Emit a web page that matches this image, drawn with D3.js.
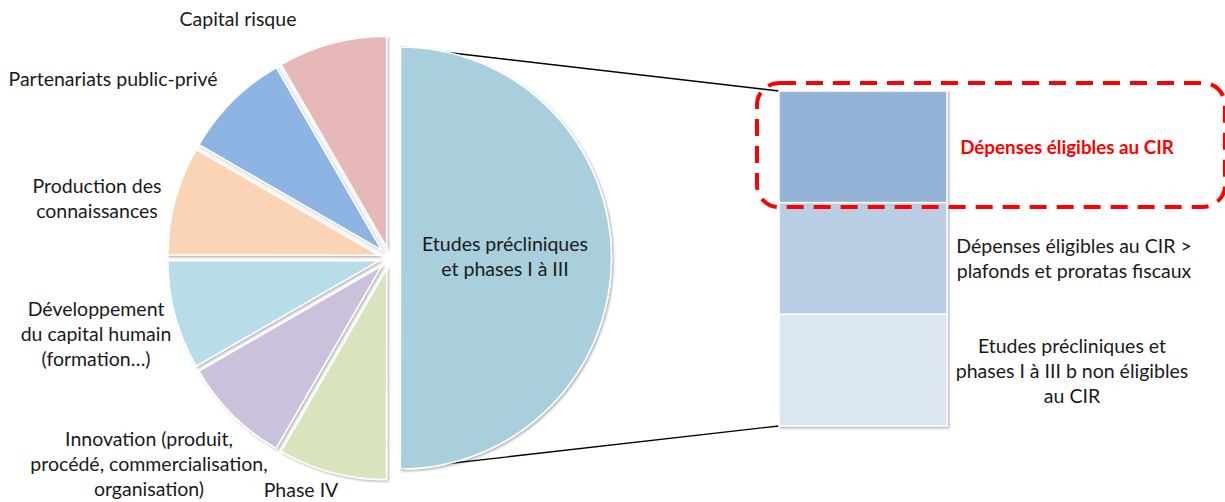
<!DOCTYPE html>
<html><head><meta charset="utf-8">
<script src="https://cdn.jsdelivr.net/npm/d3@7"></script>
<style>
html,body{margin:0;padding:0;background:#fff;}
svg text{font-family:Lato,"Open Sans",sans-serif;fill:#1a1a1a;}
</style></head>
<body><svg id="chart" width="1225" height="502"></svg>
<script>
// ---- data ----
const pieCategories = ["Etudes précliniques et phases I à III", "Phase IV",
  "Innovation (produit, procédé, commercialisation, organisation)",
  "Développement du capital humain (formation…)", "Production des connaissances",
  "Partenariats public-privé", "Capital risque"];
const pieValues = [50, 8.33, 8.33, 8.33, 8.33, 8.33, 8.33];
const pieLabelLines = [["Etudes précliniques", "et phases I à III"], ["Phase IV"],
  ["Innovation (produit,", "procédé, commercialisation,", "organisation)"],
  ["Développement", "du capital humain", "(formation…)"],
  ["Production des", "connaissances"], ["Partenariats public-privé"], ["Capital risque"]];
const barCategories = ["Dépenses éligibles au CIR",
  "Dépenses éligibles au CIR > plafonds et proratas fiscaux",
  "Etudes précliniques et phases I à III b non éligibles au CIR"];
const barValues = [16.67, 16.67, 16.66];
const barLabelLines = [["Dépenses éligibles au CIR"],
  ["Dépenses éligibles au CIR >", "plafonds et proratas fiscaux"],
  ["Etudes précliniques et", "phases I à III b non éligibles", "au CIR"]];

// ---- styles / layout ----
const pieColors = ["#A9CEDC", "#D7E4BD", "#CCC1DA", "#B7DDE8", "#FAD4B4", "#8EB4E3", "#E6B9B8"];
const barColors = ["#95B3D7", "#B9CDE5", "#DCE6F2"];
const cx = 389.5, cy = 258, R = 211, explode = 11;
const barX = 779, barW = 168, barTop = 91, barBottom = 426;
// label anchor (center x, first baseline y)
const pieLabelPos = [[505, 251], [301, 497], [149, 446], [96, 316], [97, 193], [113, 86], [238, 26]];
const barLabelPos = [[1067, 154], [1074, 253], [1072, 353]];
const lineH = 25;
const fontSize = 19.5, boldSize = 18.8;

const svg = d3.select("#chart");
const defs = svg.append("defs");
const f = defs.append("filter").attr("id", "sh").attr("x", "-10%").attr("y", "-10%").attr("width", "130%").attr("height", "130%");
f.append("feDropShadow").attr("dx", 1.5).attr("dy", 1.5).attr("stdDeviation", 1.2)
  .attr("flood-color", "#000").attr("flood-opacity", 0.3);

const pie = d3.pie().sort(null).startAngle(0).endAngle(2 * Math.PI)(pieValues);
const arc = d3.arc().innerRadius(0).outerRadius(R);

// bar scale
const y = d3.scaleLinear().domain([0, d3.sum(barValues)]).range([barBottom, barTop]);

// connector lines (behind slices)
const big = pie[0];
const bigMid = (big.startAngle + big.endAngle) / 2;
const bx = cx + explode * Math.sin(bigMid), by = cy - explode * Math.cos(bigMid);
const topPt = [bx + R * Math.sin(big.startAngle), by - R * Math.cos(big.startAngle)];
const botPt = [bx + R * Math.sin(big.endAngle), by - R * Math.cos(big.endAngle)];
svg.append("line").attr("x1", topPt[0]).attr("y1", topPt[1]).attr("x2", barX).attr("y2", y(d3.sum(barValues)))
  .attr("stroke", "#000").attr("stroke-width", 1.3);
svg.append("line").attr("x1", botPt[0]).attr("y1", botPt[1]).attr("x2", barX).attr("y2", y(0))
  .attr("stroke", "#000").attr("stroke-width", 1.3);

// pie slices
svg.append("g").selectAll("path").data(pie).join("path")
  .attr("d", arc)
  .attr("transform", d => {
    const m = (d.startAngle + d.endAngle) / 2;
    return `translate(${cx + explode * Math.sin(m)},${cy - explode * Math.cos(m)})`;
  })
  .attr("fill", (d, i) => pieColors[i])
  .attr("stroke", "#fff").attr("stroke-width", 1.5)
  .attr("filter", "url(#sh)");

// bar stack
const stack = [];
let acc = d3.sum(barValues);
barValues.forEach((v, i) => { stack.push({ top: acc, bottom: acc - v, i }); acc -= v; });
svg.append("g").attr("filter", "url(#sh)").selectAll("rect").data(stack).join("rect")
  .attr("x", barX).attr("width", barW)
  .attr("y", d => y(d.top)).attr("height", d => y(d.bottom) - y(d.top))
  .attr("fill", d => barColors[d.i]).attr("stroke", "#fff").attr("stroke-width", 1.5);

// pie labels
pieLabelLines.forEach((lines, i) => {
  const t = svg.append("text").attr("text-anchor", "middle").attr("font-size", fontSize);
  lines.forEach((l, k) => t.append("tspan").attr("x", pieLabelPos[i][0]).attr("y", pieLabelPos[i][1] + k * lineH).text(l));
});
// bar labels
barLabelLines.forEach((lines, i) => {
  const t = svg.append("text").attr("text-anchor", "middle").attr("font-size", fontSize);
  if (i === 0) t.attr("font-weight", "bold").attr("font-size", boldSize).style("fill", "#FF0000");
  lines.forEach((l, k) => t.append("tspan").attr("x", barLabelPos[i][0]).attr("y", barLabelPos[i][1] + k * lineH).text(l));
});

// highlight dashed rounded rectangle around first bar segment
svg.append("rect").attr("x", 757).attr("y", 83).attr("width", 468).attr("height", 124)
  .attr("rx", 22).attr("ry", 22)
  .attr("fill", "none").attr("stroke", "#FF0000").attr("stroke-width", 4)
  .attr("stroke-dasharray", "17,10");
</script></body></html>
